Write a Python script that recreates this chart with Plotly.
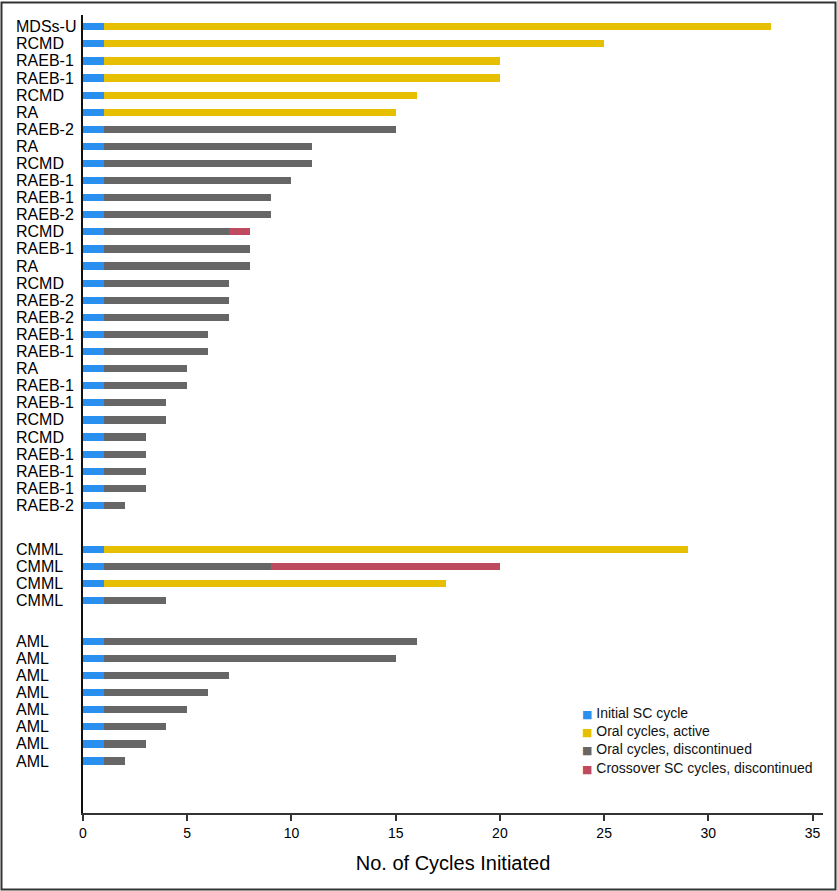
import plotly.graph_objects as go

# ---- data (top to bottom) ----
labels = [
    "MDSs-U", "RCMD", "RAEB-1", "RAEB-1", "RCMD", "RA", "RAEB-2", "RA", "RCMD",
    "RAEB-1", "RAEB-1", "RAEB-2", "RCMD", "RAEB-1", "RA", "RCMD", "RAEB-2",
    "RAEB-2", "RAEB-1", "RAEB-1", "RA", "RAEB-1", "RAEB-1", "RCMD", "RCMD",
    "RAEB-1", "RAEB-1", "RAEB-1", "RAEB-2",
    "CMML", "CMML", "CMML", "CMML",
    "AML", "AML", "AML", "AML", "AML", "AML", "AML", "AML",
]
group_sizes = [29, 4, 8]

initial_sc = [1] * 41
oral_active = [32, 24, 19, 19, 15, 14] + [0] * 23 + [28, 0, 16.4, 0] + [0] * 8
oral_discontinued = ([0] * 6 + [14, 10, 10, 9, 8, 8, 6, 7, 7, 6, 6, 6, 5, 5, 4, 4,
                                3, 3, 2, 2, 2, 2, 1]
                     + [0, 8, 0, 3]
                     + [15, 14, 6, 5, 4, 3, 2, 1])
crossover = [0] * 12 + [1] + [0] * 16 + [0, 11, 0, 0] + [0] * 8

x_ticks = [0, 5, 10, 15, 20, 25, 30, 35]
series_names = ["Initial SC cycle", "Oral cycles, active",
                "Oral cycles, discontinued", "Crossover SC cycles, discontinued"]
colors = ["#2990F0", "#E5BF00", "#666666", "#BE4A60"]

# ---- row positions (rows with extra spacing between groups) ----
group_gaps = [0, 1.58, 1.37]
ypos = []
cur = 0.0
for gi, n in enumerate(group_sizes):
    cur += group_gaps[gi]
    for _ in range(n):
        ypos.append(cur)
        cur += 1

fig = go.Figure()
for name, vals, col in zip(series_names,
                           [initial_sc, oral_active, oral_discontinued, crossover],
                           colors):
    fig.add_trace(go.Bar(
        x=vals, y=ypos, orientation="h", name=name,
        marker=dict(color=col, line=dict(width=0)),
        width=0.42, showlegend=False,
    ))

W, H = 837, 891
ml, mr, mt, mb = 83, 14, 15, 78
pw, ph = W - ml - mr, H - mt - mb
FONT = "Liberation Sans, Arial, Helvetica, sans-serif"

annotations = []
for lab, y in zip(labels, ypos):
    annotations.append(dict(
        text=lab, x=(14 - ml) / pw, xref="paper", y=y, yref="y",
        xanchor="left", yanchor="middle", showarrow=False,
        font=dict(family=FONT, size=16, color="#000"),
    ))

# legend (compact, as in the original figure)
legend_lines = [
    f"<span style='font-family:DejaVu Sans;font-size:11px;color:{c}'>■</span> {n}"
    for n, c in zip(series_names, colors)
]
annotations.append(dict(
    text="<br>".join(legend_lines), x=(580 - ml) / pw, xref="paper",
    y=(mt + ph - 703) / ph, yref="paper", xanchor="left", yanchor="top",
    align="left", showarrow=False,
    font=dict(family=FONT, size=14, color="#111"),
))

# outer frame
frame = dict(
    type="rect", xref="paper", yref="paper",
    x0=(1.5 - ml) / pw, x1=(835.5 - ml) / pw,
    y0=-(H - 1.5 - (mt + ph)) / ph, y1=1 + (mt - 2.5) / ph,
    line=dict(color="#333", width=2), fillcolor="rgba(0,0,0,0)", layer="above",
)

fig.update_layout(
    width=W, height=H,
    margin=dict(l=ml, r=mr, t=mt, b=mb, pad=0),
    barmode="stack",
    plot_bgcolor="white", paper_bgcolor="white",
    font=dict(family=FONT, color="#000"),
    showlegend=False,
    xaxis=dict(
        range=[0, 35.5], tickvals=x_ticks, ticktext=[str(v) for v in x_ticks],
        showgrid=False, zeroline=False, showline=True, linecolor="#333", linewidth=2,
        ticks="outside", ticklen=6, tickcolor="#333", tickwidth=1.5,
        tickfont=dict(family=FONT, size=14, color="#000"),
        title=dict(text="No. of Cycles Initiated", standoff=16,
                   font=dict(family=FONT, size=20, color="#000")),
    ),
    yaxis=dict(
        range=[ypos[-1] + 3.04, -0.685], showticklabels=False, showgrid=False,
        zeroline=False, showline=True, linecolor="#111", linewidth=1.5, ticks="",
    ),
    annotations=annotations,
    shapes=[frame],
)

fig.write_html("out.html", config={"displayModeBar": False},
               post_script="document.body.style.margin='0';")
